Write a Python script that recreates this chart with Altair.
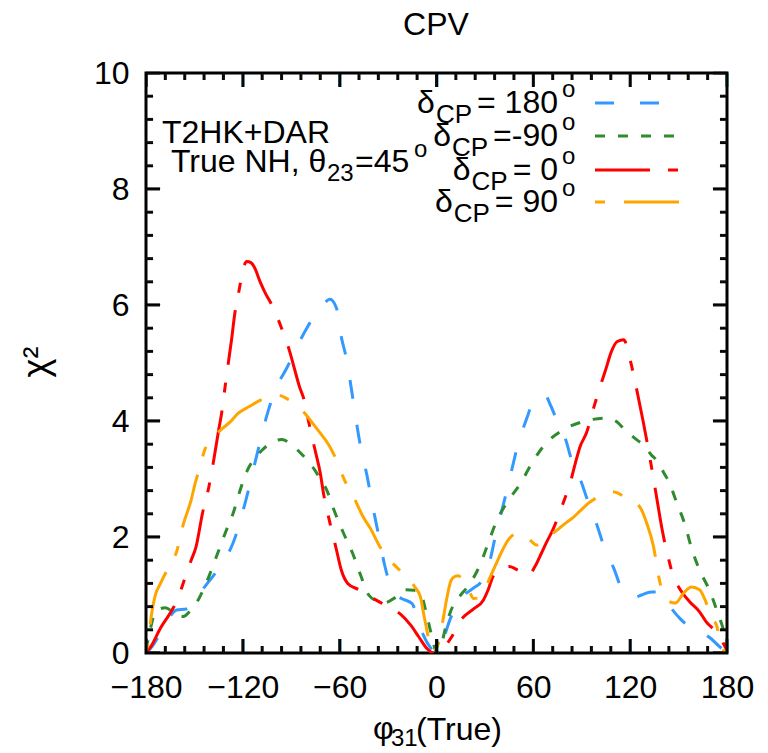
import altair as alt
import pandas as pd

# ---------------- data ----------------
series_names = ["dCP=180", "dCP=-90", "dCP=0", "dCP=90"]
legend_values = ["= 180", "=-90", "= 0", "= 90"]
series_colors = ["#3399ff", "#2e8b2e", "#ff0000", "#ffa500"]

phi_blue = [-180, -176, -172, -167, -161, -155, -149, -142, -137, -131,
            -126, -118, -111, -104, -98, -93, -87, -81, -76, -71,
            -66, -62, -59, -56, -53, -50, -47, -43, -40, -36,
            -32, -29, -25, -20, -15, -12, -8, -4, -1, 2,
            5, 8, 11, 16, 22, 29, 33, 36, 40, 44,
            47, 50, 53, 56, 59, 63, 67, 71, 75, 80,
            84, 89, 94, 99, 105, 110, 114, 118, 122, 127,
            133, 139, 144, 150, 155, 160, 165, 170, 175, 180]
chi_blue = [0.0, 0.12, 0.3, 0.55, 0.74, 0.76, 0.95, 1.2, 1.38, 1.62,
            1.9, 2.65, 3.45, 4.2, 4.65, 4.9, 5.25, 5.57, 5.8, 5.98,
            6.1, 5.95, 5.45, 5.1, 4.6, 4.05, 3.55, 3.05, 2.6, 2.05,
            1.5, 1.2, 1.0, 0.92, 0.85, 0.6, 0.3, 0.1, 0.02, 0.1,
            0.3, 0.55, 0.74, 0.97, 1.1, 1.28, 1.58, 1.95, 2.4, 2.85,
            3.2, 3.55, 3.82, 4.05, 4.28, 4.4, 4.45, 4.25, 3.98, 3.68,
            3.3, 3.0, 2.6, 2.24, 1.74, 1.45, 1.15, 1.0, 0.95, 1.0,
            1.05, 1.05, 0.83, 0.62, 0.5, 0.47, 0.35, 0.25, 0.12, 0.0]

phi_green = [-180, -177, -174, -168, -162, -157, -152, -147, -141, -136,
             -131, -126, -122, -117, -112, -108, -102, -96, -90, -85,
             -80, -76, -72, -68, -64, -58, -52, -47, -42, -37,
             -33, -26, -20, -14, -10, -6, -3, 0, 3, 6,
             11, 15, 20, 27, 32, 37, 44, 52, 59, 67,
             78, 91, 105, 111, 117, 123, 128, 133, 137, 141,
             144, 149, 154, 158, 163, 169, 174, 178, 180]
chi_green = [0.05, 0.45, 0.72, 0.78, 0.68, 0.63, 0.75, 0.95, 1.32, 1.69,
             2.06, 2.41, 2.78, 3.16, 3.38, 3.5, 3.63, 3.68, 3.6, 3.47,
             3.32, 3.18, 3.0, 2.81, 2.5, 2.09, 1.72, 1.34, 1.0, 0.9,
             0.86, 0.95, 1.09, 1.08, 1.03, 0.65, 0.3, 0.02, 0.15, 0.48,
             0.86, 1.0, 1.17, 1.52, 1.89, 2.26, 2.61, 2.92, 3.27, 3.59,
             3.84, 3.99, 4.05, 4.0, 3.84, 3.7, 3.59, 3.42, 3.3, 3.1,
             2.95, 2.58, 2.21, 1.81, 1.43, 1.09, 0.71, 0.37, 0.1]

phi_red = [-180, -177, -171, -165, -160, -157, -152, -149, -145, -141,
           -138, -135, -133, -131, -129, -127, -125, -122, -120, -117.5,
           -115, -113, -109, -106, -102, -96, -91, -88, -85, -82,
           -79, -75, -72, -70, -66, -62, -59, -55, -48, -41,
           -34, -28, -22, -16, -11, -6, -2, 3, 9, 16,
           23, 29, 32, 35, 40, 45, 51, 57, 61, 65,
           68, 72, 78, 83, 86, 89, 93, 97, 101, 105,
           108, 112, 116, 120, 124, 128, 132, 136, 140, 144,
           147, 150, 157, 163, 167, 174, 179, 180]
chi_red = [0.0, 0.11, 0.43, 0.69, 0.95, 1.2, 1.6, 1.83, 2.41, 2.87,
           3.33, 3.84, 4.16, 4.59, 5.0, 5.4, 5.85, 6.3, 6.6, 6.75,
           6.73, 6.66, 6.38, 6.2, 6.0, 5.6, 5.2, 4.9, 4.6, 4.36,
           3.96, 3.47, 3.1, 2.75, 2.24, 1.78, 1.43, 1.2, 1.09, 0.97,
           0.86, 0.77, 0.66, 0.48, 0.28, 0.08, 0.0, 0.05, 0.26, 0.6,
           0.76, 0.91, 1.09, 1.32, 1.45, 1.49, 1.42, 1.34, 1.49, 1.72,
           1.9, 2.12, 2.55, 2.95, 3.27, 3.56, 3.8, 4.19, 4.56, 4.9,
           5.17, 5.37, 5.4, 5.05, 4.55, 4.0, 3.4, 2.75, 2.1, 1.6,
           1.3, 1.14, 0.88, 0.71, 0.54, 0.34, 0.1, 0.05]

phi_orange = [-180, -178, -176.5, -174.5, -171, -168, -164, -161, -157, -152,
              -149.5, -146.5, -144, -139, -134, -128, -123, -116, -109, -103,
              -99, -93, -87, -81.5, -77, -72, -67, -63, -57, -50.5,
              -45.5, -41, -35, -29, -24, -18, -13.5, -10, -8, -6,
              -4, -2, 1, 4, 7, 9, 11.5, 13.5, 15.5, 19.5,
              23, 26, 30, 33, 37, 41, 44.5, 49.5, 56, 59,
              62, 65, 68, 72, 76, 81, 84, 89, 94, 97,
              103, 108.5, 112, 116, 123, 127, 130, 134.5, 137.5, 140,
              143, 148, 153, 158, 163, 166.5, 170.5, 173.5, 176.5, 180]
chi_orange = [0.0, 0.35, 0.68, 0.97, 1.2, 1.37, 1.55, 1.75, 2.21, 2.64,
              2.93, 3.21, 3.47, 3.7, 3.84, 3.98, 4.13, 4.25, 4.36, 4.42,
              4.45, 4.39, 4.28, 4.13, 3.97, 3.79, 3.6, 3.39, 2.98, 2.64,
              2.35, 2.15, 1.83, 1.6, 1.46, 1.3, 1.14, 0.97, 0.68, 0.4,
              0.11, 0.02, 0.15, 0.57, 1.03, 1.25, 1.32, 1.33, 1.29, 1.12,
              0.94, 0.95, 1.09, 1.29, 1.54, 1.78, 1.95, 2.06, 2.0, 1.92,
              1.86, 1.88, 1.95, 2.06, 2.15, 2.26, 2.32, 2.45, 2.58, 2.64,
              2.73, 2.78, 2.76, 2.7, 2.61, 2.47, 2.26, 1.83, 1.34, 1.05,
              0.91, 0.86, 1.03, 1.14, 1.09, 0.91, 0.6, 0.48, 0.11, 0.0]

x_major = [-180, -120, -60, 0, 60, 120, 180]
x_minor = [-168, -156, -144, -132, -108, -96, -84, -72, -48, -36, -24, -12,
           12, 24, 36, 48, 72, 84, 96, 108, 132, 144, 156, 168]
y_major = [0, 2, 4, 6, 8, 10]
y_minor = [0.4, 0.8, 1.2, 1.6, 2.4, 2.8, 3.2, 3.6, 4.4, 4.8, 5.2, 5.6,
           6.4, 6.8, 7.2, 7.6, 8.4, 8.8, 9.2, 9.6]

# ---------------- layout ----------------
FONT = "Liberation Sans"
W, H = 581, 580
X_DOMAIN = [-180, 180]
Y_DOMAIN = [0, 10]
DASHES = [[19, 26], [10, 13], [55, 18, 10, 18], [10, 19, 55, 19]]
LW = 3
TICK_LEN = {"major": 14, "minor": 7}

xs = alt.Scale(domain=X_DOMAIN, nice=False, zero=False)
ys = alt.Scale(domain=Y_DOMAIN, nice=False, zero=False)
X_AXIS = alt.Axis(values=x_major, ticks=False, domain=False, grid=False, title=None,
                  labelFont=FONT, labelFontSize=32, labelColor="black",
                  labelPadding=19, labelFlush=False, labelOverlap=False)
Y_AXIS = alt.Axis(values=y_major, ticks=False, domain=False, grid=False, title=None,
                  labelFont=FONT, labelFontSize=32, labelColor="black",
                  labelPadding=17, labelFlush=False, labelOverlap=False)

rows = []
for name, ph, ch in zip(series_names,
                        [phi_blue, phi_green, phi_red, phi_orange],
                        [chi_blue, chi_green, chi_red, chi_orange]):
    for p, c in zip(ph, ch):
        rows.append({"series": name, "id": name, "x": p, "y": c})

# inward frame ticks (gnuplot style) as short segments through the same scales
xspan = X_DOMAIN[1] - X_DOMAIN[0]
yspan = Y_DOMAIN[1] - Y_DOMAIN[0]
for kind, xv, yv in (("major", x_major, y_major), ("minor", x_minor, y_minor)):
    dy = TICK_LEN[kind] / H * yspan
    dx = TICK_LEN[kind] / W * xspan
    for v in xv:
        for side, y0, y1 in (("b", Y_DOMAIN[0], Y_DOMAIN[0] + dy), ("t", Y_DOMAIN[1], Y_DOMAIN[1] - dy)):
            tid = f"x{side}{kind}{v}"
            rows.append({"series": kind, "id": tid, "x": v, "y": y0})
            rows.append({"series": kind, "id": tid, "x": v, "y": y1})
    for v in yv:
        for side, x0, x1 in (("l", X_DOMAIN[0], X_DOMAIN[0] + dx), ("r", X_DOMAIN[1], X_DOMAIN[1] - dx)):
            tid = f"y{side}{kind}{v}"
            rows.append({"series": kind, "id": tid, "x": x0, "y": v})
            rows.append({"series": kind, "id": tid, "x": x1, "y": v})
df = pd.DataFrame(rows)

kinds = series_names + ["major", "minor"]
lines = alt.Chart(df).mark_line(interpolate="monotone", clip=True).encode(
    x=alt.X("x:Q", scale=xs, axis=X_AXIS),
    y=alt.Y("y:Q", scale=ys, axis=Y_AXIS),
    color=alt.Color("series:N", scale=alt.Scale(domain=kinds, range=series_colors + ["#111111", "#111111"]),
                    legend=None),
    strokeDash=alt.StrokeDash("series:N", scale=alt.Scale(domain=kinds, range=DASHES + [[40, 1], [40, 1]]),
                              legend=None),
    strokeWidth=alt.StrokeWidth("series:N", scale=alt.Scale(domain=kinds, range=[LW, LW, LW, LW, 2.5, 2]),
                                legend=None),
    detail="id:N",
)

ONE = pd.DataFrame({"a": [0]})


def xpix(v):
    return (v - X_DOMAIN[0]) / xspan * W


def ypix(v):
    return H - (v - Y_DOMAIN[0]) / yspan * H


def rule(x1, y1, x2, y2, width, color="black", dash=None):
    kw = dict(color=color, strokeWidth=width)
    if dash is not None:
        kw["strokeDash"] = dash
    return alt.Chart(ONE).mark_rule(**kw).encode(
        x=alt.value(x1), y=alt.value(y1), x2=alt.value(x2), y2=alt.value(y2))


def text_layer(s, x, y, size=32, align="left", angle=None, baseline="alphabetic", weight=None):
    kw = dict(align=align, baseline=baseline, font=FONT, fontSize=size, color="black")
    if angle is not None:
        kw["angle"] = angle
    if weight is not None:
        kw["fontWeight"] = weight
    return alt.Chart(pd.DataFrame({"t": [s]})).mark_text(**kw).encode(
        x=alt.value(x), y=alt.value(y), text="t:N")


def glyph_ticks():
    # same inward ticks, also drawn as em-dash glyphs (length = font size)
    out = []
    for kind, xv, yv in (("major", x_major, y_major), ("minor", x_minor, y_minor)):
        ln = TICK_LEN[kind]
        for v in xv:
            p = xpix(v)
            out.append(text_layer("—", p, H - ln / 2, ln, "center", 90, "middle", "bold"))
            out.append(text_layer("—", p, ln / 2, ln, "center", 90, "middle", "bold"))
        for v in yv:
            p = ypix(v)
            out.append(text_layer("—", ln / 2, p, ln, "center", None, "middle", "bold"))
            out.append(text_layer("—", W - ln / 2, p, ln, "center", None, "middle", "bold"))
    return out


ARIAL = {"=": 0.584, " ": 0.278, "-": 0.333, "C": 0.722, "P": 0.667}


def text_width(s, size):
    return sum(ARIAL.get(ch, 0.556) for ch in s) * size


layers = [lines]

# legend (top right, gnuplot style)
EQ_RIGHT = 412
for i, (val, col, dash) in enumerate(zip(legend_values, series_colors, DASHES)):
    base = [40, 73, 107, 139][i]
    eq_left = EQ_RIGHT - text_width(val, 32)
    cp_right = eq_left - 5
    d_right = cp_right - text_width("CP", 26) - 1
    layers.append(text_layer(val, EQ_RIGHT, base, 32, "right"))
    layers.append(text_layer("CP", cp_right, base + 10, 26, "right"))
    layers.append(text_layer("δ", d_right, base, 32, "right"))
    layers.append(text_layer("o", EQ_RIGHT + 4, base - 16, 24, "left"))
    layers.append(rule(449, base - 10, 534, base - 10, LW, col, dash))

# annotation (top left)
layers.append(text_layer("T2HK+DAR", 16, 70, 32))
layers.append(text_layer("True NH, θ", 25, 99, 32))
layers.append(text_layer("23", 181, 108, 24))
layers.append(text_layer("=45", 209, 99, 32))
layers.append(text_layer("o", 268, 84, 24))

# titles
layers.append(text_layer("CPV", 290, -38, 32, "center"))
layers.append(text_layer("χ²", -109, 289, 36, "center", angle=270, baseline="middle"))
layers.append(text_layer("φ", 227, 666, 32))
layers.append(text_layer("31", 245, 673, 24))
layers.append(text_layer("(True)", 270, 667, 32))

layers += glyph_ticks()

chart = alt.layer(*layers).properties(
    width=W, height=H,
    autosize=alt.AutoSizeParams(type="none"),
    padding={"left": 138, "top": 65, "right": 33, "bottom": 99},
).configure_view(stroke="black", strokeWidth=3)

chart.save("out.html", embed_options={"renderer": "svg", "actions": False})
